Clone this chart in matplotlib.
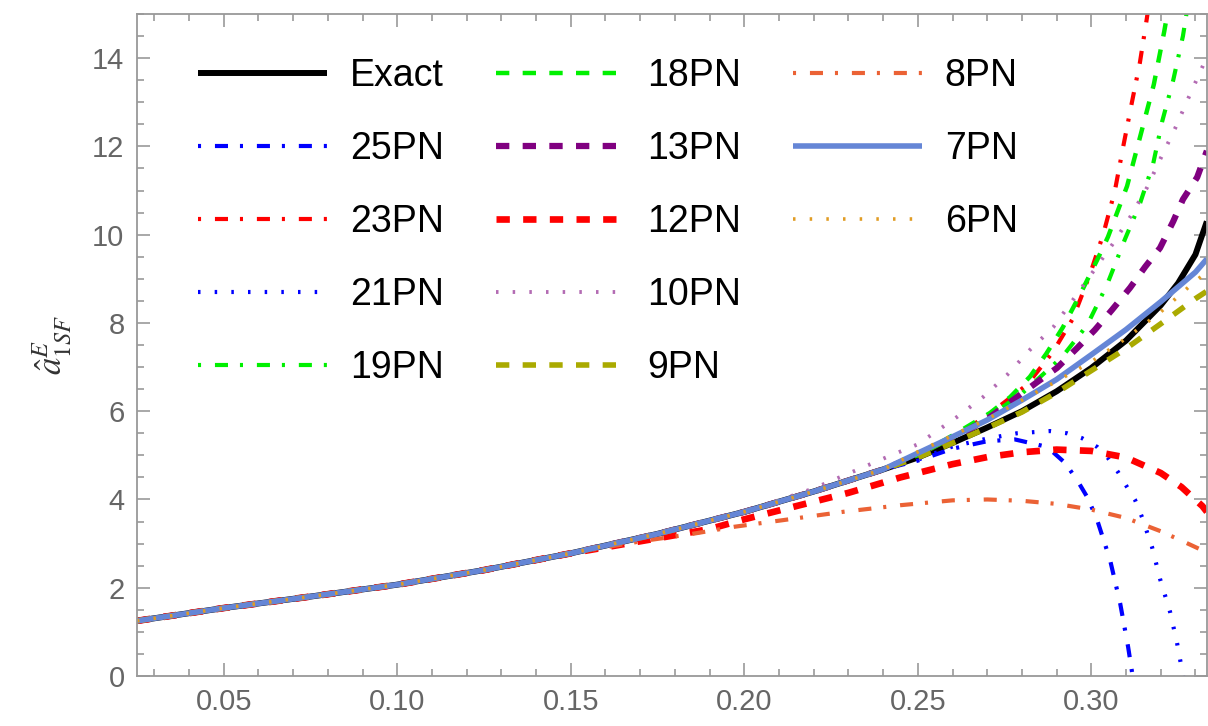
import matplotlib
matplotlib.use("Agg")
import matplotlib.pyplot as plt
from matplotlib.lines import Line2D

plt.rcParams['font.family'] = ['Liberation Sans', 'DejaVu Sans']
plt.rcParams['mathtext.fontset'] = 'stix'
plt.rcParams['lines.scale_dashes'] = False

# ---- data ----
x_base = [0.025, 0.05, 0.075, 0.10, 0.125, 0.15, 0.175, 0.20, 0.22, 0.24]
y_base = [1.25, 1.54, 1.80, 2.07, 2.40, 2.78, 3.22, 3.72, 4.18, 4.68]

x_exact = [0.25, 0.26, 0.27, 0.28, 0.29, 0.30, 0.31, 0.32, 0.325, 0.33, 0.3333]
y_exact = [4.95, 5.28, 5.63, 6.0, 6.45, 6.98, 7.6, 8.4, 8.9, 9.55, 10.3]

x_25 = [0.25, 0.26, 0.27, 0.278, 0.2873, 0.2924, 0.2959, 0.299, 0.3017, 0.3054, 0.3083, 0.3106, 0.3125]
y_25 = [4.88, 5.15, 5.32, 5.36, 5.19, 4.83, 4.44, 4.03, 3.53, 2.63, 1.65, 0.66, -0.3]

x_23 = [0.25, 0.26, 0.27, 0.2815, 0.289, 0.2947, 0.2996, 0.3034, 0.3068, 0.3092, 0.3117, 0.314, 0.316, 0.318]
y_23 = [5.0, 5.4, 5.9, 6.6, 7.35, 8.1, 9.1, 10.0, 11.0, 12.0, 13.0, 13.9, 14.9, 16.0]

x_21 = [0.25, 0.26, 0.27, 0.2786, 0.2881, 0.293, 0.2973, 0.3017, 0.3048, 0.3077, 0.3103, 0.3126,
        0.3146, 0.3175, 0.3198, 0.3227, 0.3247, 0.3264, 0.328]
y_21 = [4.9, 5.2, 5.38, 5.5, 5.55, 5.5, 5.39, 5.19, 4.94, 4.62, 4.28, 3.99,
        3.6, 2.92, 2.2, 1.45, 0.75, 0.02, -0.5]

x_19 = [0.25, 0.26, 0.27, 0.28, 0.2916, 0.2988, 0.3045, 0.3097, 0.314, 0.3178, 0.3204, 0.3236, 0.3264, 0.328]
y_19 = [5.0, 5.4, 5.85, 6.4, 7.23, 7.95, 8.86, 9.9, 10.7, 11.6, 12.56, 13.5, 14.5, 15.3]

x_18 = [0.25, 0.26, 0.2708, 0.2766, 0.2823, 0.287, 0.2918, 0.2968, 0.3017, 0.3048, 0.3103, 0.314, 0.318, 0.321, 0.323]
y_18 = [5.0, 5.45, 5.96, 6.32, 6.78, 7.3, 7.9, 8.65, 9.43, 9.95, 11.1, 12.2, 13.4, 14.6, 15.5]

x_13 = [0.25, 0.26, 0.27, 0.2844, 0.2901, 0.2959, 0.301, 0.306, 0.3112, 0.3155, 0.3198, 0.3236, 0.3264, 0.3305, 0.3333]
y_13 = [5.0, 5.38, 5.82, 6.66, 6.98, 7.43, 7.84, 8.3, 8.8, 9.27, 9.7, 10.3, 10.8, 11.3, 11.9]

x_12 = [0.175, 0.19, 0.20, 0.216, 0.23, 0.245, 0.26, 0.27, 0.28, 0.29, 0.30, 0.31, 0.32, 0.326, 0.332, 0.3333]
y_12 = [3.12, 3.33, 3.55, 3.87, 4.15, 4.5, 4.8, 4.96, 5.07, 5.13, 5.1, 4.95, 4.6, 4.28, 3.85, 3.72]

x_10 = [0.22, 0.2405, 0.25, 0.2564, 0.2613, 0.2688, 0.2757, 0.2823, 0.289, 0.2947, 0.306, 0.3112,
        0.316, 0.3198, 0.3241, 0.328, 0.332, 0.3333]
y_10 = [4.25, 4.94, 5.25, 5.6, 5.87, 6.32, 6.82, 7.39, 7.9, 8.52, 9.77, 10.4,
        11.06, 11.7, 12.4, 13.1, 13.8, 14.05]

x_9 = [0.25, 0.26, 0.27, 0.28, 0.29, 0.30, 0.31, 0.32, 0.33, 0.3333]
y_9 = [4.95, 5.28, 5.62, 5.98, 6.42, 6.92, 7.42, 7.98, 8.55, 8.72]

x_8 = [0.17, 0.185, 0.197, 0.211, 0.2285, 0.245, 0.26, 0.27, 0.28, 0.29, 0.30, 0.31, 0.32, 0.327, 0.3333]
y_8 = [3.05, 3.22, 3.38, 3.53, 3.72, 3.87, 3.98, 4.0, 3.97, 3.9, 3.77, 3.58, 3.28, 3.03, 2.8]

x_7 = [0.25, 0.26, 0.27, 0.28, 0.29, 0.30, 0.31, 0.32, 0.33, 0.3333]
y_7 = [5.05, 5.42, 5.8, 6.25, 6.72, 7.28, 7.85, 8.48, 9.15, 9.45]

x_6 = [0.25, 0.26, 0.27, 0.28, 0.29, 0.30, 0.31, 0.32, 0.33, 0.3333]
y_6 = [5.08, 5.45, 5.82, 6.25, 6.68, 7.12, 7.65, 8.25, 8.95, 9.15]

labels = ["Exact", "25PN", "23PN", "21PN", "19PN", "18PN", "13PN", "12PN", "10PN", "9PN", "8PN", "7PN", "6PN"]

x_ticks = [0.05, 0.10, 0.15, 0.20, 0.25, 0.30]
y_ticks = [0, 2, 4, 6, 8, 10, 12, 14]


def with_base(xs, ys, upto):
    bx = [v for v in x_base if v <= upto]
    by = y_base[:len(bx)]
    return bx + xs, by + ys

# ---- styles ----
DASHDOT = (0, (2.2, 10.0, 9.4, 8.6))
DOTTED = (0, (1.8, 10.2))
DASHED = (0, (9.6, 9.6))

series = [
    (with_base(x_exact, y_exact, 0.24), dict(color='black', lw=4.3, ls='-')),
    (with_base(x_25, y_25, 0.24), dict(color='#0000ff', lw=3.0, ls=DASHDOT)),
    (with_base(x_23, y_23, 0.24), dict(color='#ff0000', lw=3.0, ls=DASHDOT)),
    (with_base(x_21, y_21, 0.24), dict(color='#0000ff', lw=3.0, ls=DOTTED)),
    (with_base(x_19, y_19, 0.24), dict(color='#00f000', lw=3.0, ls=DASHDOT)),
    (with_base(x_18, y_18, 0.24), dict(color='#00f000', lw=3.2, ls=DASHED)),
    (with_base(x_13, y_13, 0.24), dict(color='#800080', lw=4.5, ls=DASHED)),
    (with_base(x_12, y_12, 0.15), dict(color='#ff0000', lw=4.8, ls=DASHED)),
    (with_base(x_10, y_10, 0.20), dict(color='#b36bb3', lw=2.8, ls=DOTTED)),
    (with_base(x_9, y_9, 0.24), dict(color='#aaaa00', lw=4.0, ls=DASHED)),
    (with_base(x_8, y_8, 0.15), dict(color='#eb6235', lw=3.0, ls=DASHDOT)),
    (with_base(x_7, y_7, 0.24), dict(color='#6586d6', lw=4.0, ls='-')),
    (with_base(x_6, y_6, 0.24), dict(color='#e19c24', lw=2.6, ls=DOTTED)),
]

fig = plt.figure(figsize=(12.08, 7.26), dpi=100)
ax = fig.add_axes([137/1208, 50/726, (1207-137)/1208, (676-14)/726])

handles = []
for ((xs, ys), st), lab in zip(series, labels):
    h, = ax.plot(xs, ys, label=lab, solid_capstyle='butt', dash_capstyle='butt', **st)
    handles.append(h)

ax.set_xlim(0.025, 1/3)
ax.set_ylim(0, 15)
ax.set_xticks(x_ticks)
ax.set_xticklabels([f"{v:.2f}" for v in x_ticks])
ax.set_yticks(y_ticks)
ax.set_yticklabels([str(v) for v in y_ticks])
minor_x = [round(0.03 + 0.01 * i, 2) for i in range(31)]
minor_x = [v for v in minor_x if v < 0.334 and round(v * 100) % 5 != 0]
ax.set_xticks(minor_x, minor=True)
ax.set_yticks([0.5 * i for i in range(31) if i % 4 != 0], minor=True)

gray = '#999999'
for s in ax.spines.values():
    s.set_color(gray)
    s.set_linewidth(1.3)
ax.tick_params(which='both', direction='in', top=True, right=True, color=gray,
               labelcolor='#666666', labelsize=21, width=1.2)
ax.tick_params(which='major', length=9.5, pad=9)
ax.tick_params(which='minor', length=5)

ax.set_ylabel(r"$\hat{a}^{E}_{1SF}$", fontsize=25, color='#333333', labelpad=14)

blank = Line2D([], [], color='none')
leg_handles = handles + [blank, blank]
leg_labels = labels + ["", ""]
leg = ax.legend(leg_handles, leg_labels, ncol=3, loc='upper left',
                bbox_to_anchor=(198/1208, 1 - 58/726), bbox_transform=fig.transFigure,
                frameon=False, fontsize=27, handlelength=3.45, handletextpad=0.6,
                columnspacing=1.38, labelspacing=0.99, borderpad=0, borderaxespad=0)

fig.savefig("out.png", dpi=100)
